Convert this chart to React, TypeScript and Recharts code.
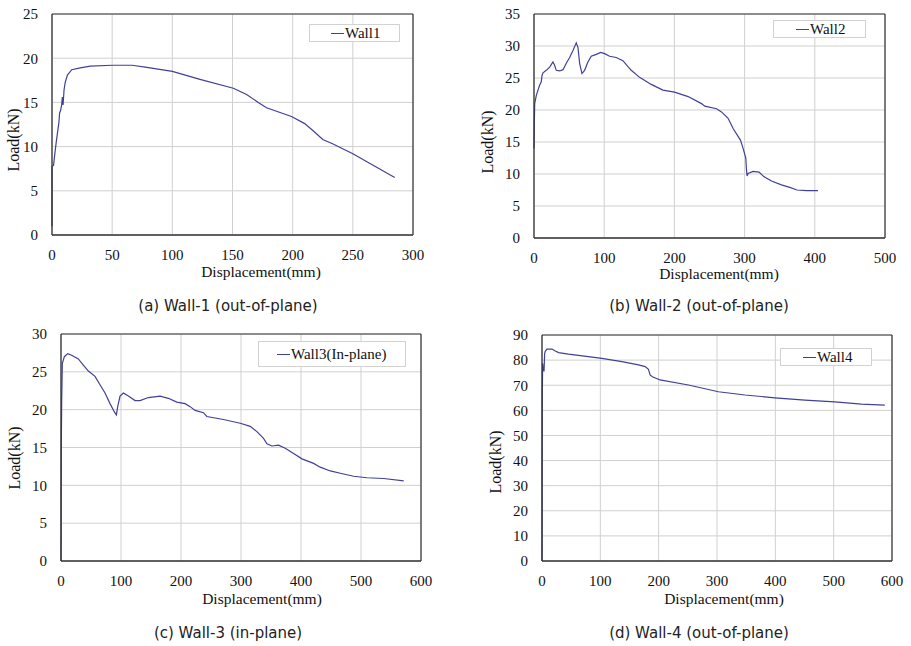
import { CartesianGrid, Legend, Line, LineChart, ReferenceLine, XAxis, YAxis } from "recharts";

// Wall-1 (out-of-plane)
const wall1Disp = [0, 0, 0.5, 1.3, 2.7, 3.7, 4.7, 5.8, 6.3, 7.2, 8.0, 8.6, 9.2, 10.0, 10.9, 12.8, 16.4, 23.5, 31.8, 50, 66.5, 77.5, 100, 123, 150.7, 161.7, 171.4, 178.3, 199, 210, 217, 225, 233.6, 250, 284.8];
const wall1Load = [1.0, 7.7, 7.8, 7.9, 9.6, 10.7, 11.7, 12.8, 13.8, 14.1, 14.7, 15.6, 14.7, 16.4, 17.2, 18.1, 18.7, 18.9, 19.1, 19.2, 19.2, 19.0, 18.5, 17.6, 16.6, 15.9, 15.0, 14.4, 13.4, 12.6, 11.8, 10.8, 10.3, 9.2, 6.5];

// Wall-2 (out-of-plane)
const wall2Disp = [0, 0.5, 1, 3.3, 5.7, 8.1, 10.4, 11.4, 12.8, 17.5, 22.3, 27, 29.4, 31.7, 36.5, 41.3, 46, 50.8, 55.5, 60.2, 62.6, 65, 68.3, 72.1, 76.8, 81.5, 88.7, 94.9, 100.6, 107.7, 117.2, 126.6, 138.5, 150.4, 167, 183.6, 200.2, 219.6, 238.6, 243.3, 260, 267.1, 276.5, 283.6, 294.1, 297.9, 301.7, 302.7, 303.6, 305, 312, 320.6, 327.3, 338.3, 352.5, 364.3, 374.7, 388.2, 404.6];
const wall2Load = [14, 18, 21.0, 22.3, 23.1, 23.9, 24.4, 25.4, 25.8, 26.2, 26.7, 27.5, 27.0, 26.2, 26.1, 26.3, 27.3, 28.2, 29.3, 30.5, 29.8, 27.3, 25.7, 26.2, 27.5, 28.4, 28.7, 29.0, 28.8, 28.4, 28.2, 27.7, 26.2, 25.1, 24.0, 23.1, 22.8, 22.1, 21.0, 20.6, 20.2, 19.7, 18.7, 17.1, 15.3, 14.0, 12.5, 10.6, 9.7, 10.1, 10.4, 10.3, 9.6, 8.9, 8.3, 7.9, 7.5, 7.4, 7.4];

// Wall-3 (in-plane)
const wall3Disp = [0, 0.5, 1.1, 2.2, 5.6, 11.1, 17.8, 28.9, 37.2, 45.6, 56.7, 65, 73.4, 81.7, 89, 92.3, 94.5, 98.4, 104, 112.3, 123.4, 131.8, 145.6, 165.1, 179, 193, 206.8, 215.2, 223.5, 237.4, 243, 270.9, 298.7, 315.4, 326.5, 337.6, 343.2, 351.5, 362.6, 373.7, 387.7, 401.6, 421, 432, 448.8, 465.5, 487.8, 510, 537.8, 571.2];
const wall3Load = [0, 15, 20.8, 26.1, 27.0, 27.4, 27.2, 26.7, 25.9, 25.1, 24.4, 23.3, 22.2, 20.8, 19.7, 19.3, 20.4, 21.8, 22.2, 21.8, 21.2, 21.2, 21.6, 21.8, 21.5, 21.0, 20.8, 20.4, 19.9, 19.6, 19.1, 18.7, 18.2, 17.8, 17.1, 16.2, 15.5, 15.2, 15.3, 14.9, 14.2, 13.5, 12.9, 12.4, 11.9, 11.6, 11.2, 11.0, 10.9, 10.6];

// Wall-4 (out-of-plane)
const wall4Disp = [0, 0.5, 1.1, 2, 3.5, 4, 4.5, 5.5, 8.5, 17.1, 22.8, 28.4, 45.5, 102.7, 136.9, 165.4, 176.8, 182.5, 185.3, 189.3, 202.4, 251, 302.3, 348, 399.3, 450.7, 502, 547.6, 587.6];
const wall4Load = [0, 65, 78.7, 76.5, 75.5, 79, 82.5, 83.5, 84.4, 84.4, 83.6, 83.0, 82.4, 80.7, 79.4, 78.1, 77.4, 76.3, 74.1, 73.4, 72.1, 70.1, 67.4, 66.1, 65.0, 64.1, 63.4, 62.5, 62.1];

const ticksA = { x: [0, 50, 100, 150, 200, 250, 300], y: [0, 5, 10, 15, 20, 25] };
const ticksB = { x: [0, 100, 200, 300, 400, 500], y: [0, 5, 10, 15, 20, 25, 30, 35] };
const ticksC = { x: [0, 100, 200, 300, 400, 500, 600], y: [0, 5, 10, 15, 20, 25, 30] };
const ticksD = { x: [0, 100, 200, 300, 400, 500, 600], y: [0, 10, 20, 30, 40, 50, 60, 70, 80, 90] };

const LINE = "#40409a";
const FRAME = "#333";
const SERIF = "Liberation Serif";

const zip = (xs: number[], ys: number[]) => xs.map((x, i) => ({ x, y: ys[i] }));

interface PanelProps {
  name: string;
  caption: string;
  xs: number[];
  ys: number[];
  ticks: { x: number[]; y: number[] };
  left: number;
  top: number;
  width: number;
  plot: { l: number; t: number; r: number; b: number };
  xLabel: { x: number; y: number };
  yLabel: { x: number; y: number };
  legend: { l: number; t: number; w: number; h: number; pad: number };
  captionPos: { x: number; y: number };
}

function Panel(p: PanelProps) {
  const height = 290;
  const xMax = p.ticks.x[p.ticks.x.length - 1];
  const yMax = p.ticks.y[p.ticks.y.length - 1];
  const tick = { fill: "#111", fontSize: 15, fontFamily: SERIF };
  return (
    <>
      <div style={{ position: "absolute", left: p.left, top: p.top }}>
        <LineChart
          width={p.width}
          height={height}
          data={zip(p.xs, p.ys)}
          margin={{ top: p.plot.t, right: p.width - p.plot.r, left: 0, bottom: height - p.plot.b - 45 }}
        >
          <CartesianGrid stroke="#d0d0d0" verticalValues={p.ticks.x} horizontalValues={p.ticks.y} />
          <XAxis
            type="number"
            dataKey="x"
            domain={[0, xMax]}
            ticks={p.ticks.x}
            interval={0}
            height={45}
            tickLine={false}
            tickMargin={8}
            axisLine={{ stroke: FRAME, strokeWidth: 1.3 }}
            tick={tick}
            label={{
              content: () => (
                <text x={p.xLabel.x} y={p.xLabel.y} textAnchor="middle" fill="#111" fontSize={15.5} fontFamily={SERIF}>
                  Displacement(mm)
                </text>
              ),
            }}
          />
          <YAxis
            type="number"
            domain={[0, yMax]}
            ticks={p.ticks.y}
            interval={0}
            width={p.plot.l}
            tickLine={false}
            tickMargin={8}
            axisLine={{ stroke: FRAME, strokeWidth: 1.3 }}
            tick={tick}
            label={{
              content: () => (
                <text
                  x={p.yLabel.x}
                  y={p.yLabel.y}
                  textAnchor="middle"
                  dominantBaseline="central"
                  transform={`rotate(-90, ${p.yLabel.x}, ${p.yLabel.y})`}
                  fill="#111"
                  fontSize={16}
                  fontFamily={SERIF}
                >
                  Load(kN)
                </text>
              ),
            }}
          />
          <ReferenceLine y={yMax} stroke={FRAME} strokeWidth={1.2} />
          <ReferenceLine x={xMax} stroke={FRAME} strokeWidth={1.2} />
          <Legend
            layout="vertical"
            align="center"
            verticalAlign="middle"
            wrapperStyle={{ left: p.legend.l, top: p.legend.t, width: p.legend.w, height: p.legend.h }}
            content={({ payload }) => (
              <div
                style={{
                  boxSizing: "border-box",
                  width: p.legend.w,
                  height: p.legend.h,
                  border: "1px solid #d2d2d2",
                  background: "#fff",
                  display: "flex",
                  alignItems: "center",
                  paddingLeft: p.legend.pad,
                  fontFamily: SERIF,
                  fontSize: 15,
                  color: "#111",
                }}
              >
                <span style={{ display: "inline-block", width: 13, borderTop: `1px solid ${LINE}`, marginRight: 1 }} />
                <span>{payload?.[0]?.value}</span>
              </div>
            )}
          />
          <Line
            type="linear"
            dataKey="y"
            name={p.name}
            stroke={LINE}
            strokeWidth={1.2}
            dot={false}
            isAnimationActive={false}
          />
        </LineChart>
      </div>
      <div
        style={{
          position: "absolute",
          left: p.left + p.captionPos.x - 150,
          top: p.top + p.captionPos.y - 9,
          width: 300,
          lineHeight: "18px",
          textAlign: "center",
          fontFamily: "DejaVu Sans",
          fontSize: 15,
          color: "#222",
        }}
      >
        {p.caption}
      </div>
    </>
  );
}

export default function App() {
  return (
    <div style={{ position: "absolute", left: 0, top: 0, width: 911, height: 646, background: "#fff" }}>
      <Panel
        name="Wall1"
        caption="(a) Wall-1 (out-of-plane)"
        xs={wall1Disp}
        ys={wall1Load}
        ticks={ticksA}
        left={0}
        top={0}
        width={440}
        plot={{ l: 52, t: 14, r: 413, b: 235 }}
        xLabel={{ x: 261, y: 277 }}
        yLabel={{ x: 13, y: 140 }}
        legend={{ l: 309, t: 24, w: 91, h: 18, pad: 21 }}
        captionPos={{ x: 228, y: 306 }}
      />
      <Panel
        name="Wall2"
        caption="(b) Wall-2 (out-of-plane)"
        xs={wall2Disp}
        ys={wall2Load}
        ticks={ticksB}
        left={455}
        top={0}
        width={456}
        plot={{ l: 79, t: 14, r: 430, b: 238 }}
        xLabel={{ x: 264, y: 279 }}
        yLabel={{ x: 32, y: 142 }}
        legend={{ l: 318, t: 20, w: 93, h: 18, pad: 22 }}
        captionPos={{ x: 244, y: 306 }}
      />
      <Panel
        name="Wall3(In-plane)"
        caption="(c) Wall-3 (in-plane)"
        xs={wall3Disp}
        ys={wall3Load}
        ticks={ticksC}
        left={0}
        top={320}
        width={455}
        plot={{ l: 61, t: 14, r: 421, b: 241 }}
        xLabel={{ x: 262, y: 284 }}
        yLabel={{ x: 14, y: 138 }}
        legend={{ l: 258, t: 21, w: 148, h: 26, pad: 18 }}
        captionPos={{ x: 228, y: 313 }}
      />
      <Panel
        name="Wall4"
        caption="(d) Wall-4 (out-of-plane)"
        xs={wall4Disp}
        ys={wall4Load}
        ticks={ticksD}
        left={455}
        top={320}
        width={456}
        plot={{ l: 87, t: 15, r: 437, b: 241 }}
        xLabel={{ x: 269, y: 284 }}
        yLabel={{ x: 40, y: 142 }}
        legend={{ l: 325, t: 28, w: 92, h: 18, pad: 22 }}
        captionPos={{ x: 244, y: 313 }}
      />
    </div>
  );
}
